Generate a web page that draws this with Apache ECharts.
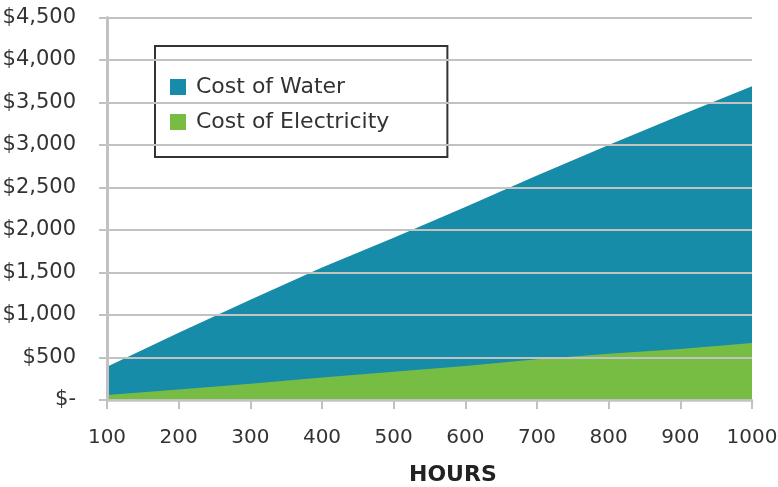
<!DOCTYPE html>
<html><head><meta charset="utf-8">
<script src="https://cdn.jsdelivr.net/npm/echarts@6/dist/echarts.min.js"></script>
<style>html,body{margin:0;padding:0;background:#fff}#c{width:778px;height:487px}</style>
</head><body><div id="c"></div>
<script>
var hours = [100, 200, 300, 400, 500, 600, 700, 800, 900, 1000];
var costWater = [390, 790, 1180, 1560, 1910, 2270, 2640, 3000, 3350, 3690];
var costElectricity = [60, 125, 190, 264, 332, 399, 480, 545, 600, 670];
var seriesNames = ['Cost of Water', 'Cost of Electricity'];
var xTitle = 'HOURS';

var FONT = 'DejaVu Sans';
var TXT = '#333333';
var GRAY = '#c2c2c2';

function pairs(vals){ return hours.map(function(h,i){ return [h, vals[i]]; }); }

var chart = echarts.init(document.getElementById('c'), null, {renderer:'canvas'});
chart.setOption({
  animation:false,
  backgroundColor:'#ffffff',
  grid:{left:107, right:26, top:17.5, bottom:87, outerBoundsMode:'none'},
  title:{text:xTitle, left:409, top:464, textStyle:{fontFamily:FONT, fontSize:22, fontWeight:'bold', color:'#222'}, padding:0},
  legend:{
    orient:'vertical', left:155, top:46,
    padding:[30, 58, 24, 15], itemGap:13,
    borderColor:'#333', borderWidth:2, backgroundColor:'#fff',
    icon:'rect', itemWidth:16, itemHeight:16,
    textStyle:{fontFamily:FONT, fontSize:22, color:TXT, padding:[0,0,0,5]},
    data:seriesNames
  },
  xAxis:{
    type:'value', min:100, max:1000, interval:100, z:5,
    axisLine:{show:true, lineStyle:{color:GRAY, width:2.5}},
    axisTick:{show:true, length:9, lineStyle:{color:GRAY, width:2}},
    splitLine:{show:false},
    axisLabel:{fontFamily:FONT, fontSize:20, color:TXT, margin:28, formatter:function(v){ return String(v); }}
  },
  yAxis:{
    type:'value', min:0, max:4500, interval:500, z:5,
    axisLine:{show:true, lineStyle:{color:GRAY, width:3}},
    axisTick:{show:true, length:8, lineStyle:{color:GRAY, width:2}},
    splitLine:{show:true, lineStyle:{color:GRAY, width:2}},
    splitArea:{show:false},
    axisLabel:{fontFamily:FONT, fontSize:21, color:TXT, margin:31,
      formatter:function(v){ return v===0 ? '$-' : '$'+v.toLocaleString('en-US'); }}
  },
  series:[
    {name:seriesNames[0], type:'line', data:pairs(costWater), showSymbol:false, symbol:'none',
     lineStyle:{width:0, opacity:0}, areaStyle:{color:'#168ca8', opacity:1, origin:'start'}, itemStyle:{color:'#168ca8'}, z:2},
    {name:seriesNames[1], type:'line', data:pairs(costElectricity), showSymbol:false, symbol:'none',
     lineStyle:{width:0, opacity:0}, areaStyle:{color:'#78bd43', opacity:1, origin:'start'}, itemStyle:{color:'#78bd43'}, z:3}
  ]
});
</script></body></html>
